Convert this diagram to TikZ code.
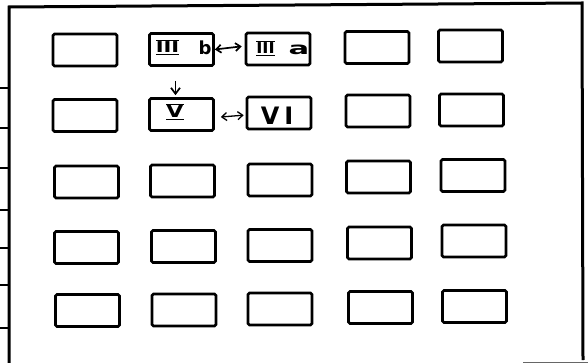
\documentclass[tikz,border=0pt]{standalone}
\usepackage{fontspec}
\setmainfont{DejaVu Sans}
\usetikzlibrary{arrows.meta}
\tikzset{
  cell/.style={draw=black, line width=2.6pt, rounded corners=1.5pt, minimum width=64pt, minimum height=32pt, inner sep=0pt},
  lbl/.style={inner sep=0pt, font=\fontsize{15}{15}\selectfont},
  frameline/.style={line width=3pt, black},
  tick/.style={line width=2pt, black},
  link/.style={line width=1.7pt, black, {Straight Barb[length=5pt,width=8pt]}-{Straight Barb[length=5pt,width=8pt]}},
  downlink/.style={line width=1.7pt, black, -{Straight Barb[length=6pt,width=9pt]}}
}
\newcommand{\barred}[1]{$\overline{\underline{\mbox{#1}}}$}
\begin{document}
\begin{tikzpicture}[x=1pt,y=-1pt]
\useasboundingbox (0,0) rectangle (588,363);
% frame
\draw[frameline] (9,364) -- (9,7) -- (582,3) -- (583,360);
\draw[line width=1pt, black!60] (523,362) -- (588,362);
% ticks
\foreach \t in {88,128,168,210,248,285,328} \draw[tick] (0,\t) -- (9,\t);
% boxes
\node[cell] (r1c1) at (85,50) {};
\node[cell] (r1c2) at (181.5,49.5) {};
\node[cell] (r1c3) at (278,49) {};
\node[cell] (r1c4) at (377,47.5) {};
\node[cell] (r1c5) at (470.5,46) {};
\node[cell] (r2c1) at (85,115.5) {};
\node[cell] (r2c2) at (181.5,114.5) {};
\node[cell] (r2c3) at (279,113) {};
\node[cell] (r2c4) at (378,111) {};
\node[cell] (r2c5) at (471.5,110) {};
\node[cell] (r3c1) at (86.5,182) {};
\node[cell] (r3c2) at (182.5,181) {};
\node[cell] (r3c3) at (280,180) {};
\node[cell] (r3c4) at (378.5,177) {};
\node[cell] (r3c5) at (473,175.5) {};
\node[cell] (r4c1) at (86.5,247.5) {};
\node[cell] (r4c2) at (183.5,246.5) {};
\node[cell] (r4c3) at (280,245.5) {};
\node[cell] (r4c4) at (379.5,243) {};
\node[cell] (r4c5) at (474,241) {};
\node[cell] (r5c1) at (87.5,310.5) {};
\node[cell] (r5c2) at (184,310) {};
\node[cell] (r5c3) at (280,309) {};
\node[cell] (r5c4) at (380.5,307.5) {};
\node[cell] (r5c5) at (474.5,306.5) {};
% labels
\node[lbl] (t3) at (167.5,47.5) {\bfseries\barred{\scalebox{1.4}[1]{III}}};
\node[lbl, font=\fontsize{18}{18}\selectfont\bfseries] (tb) at (205,48) {b};
\node[lbl] (t3a) at (265.5,48.5) {\bfseries\barred{\scalebox{1.1}[1]{III}}};
\node[lbl, font=\fontsize{17}{17}\selectfont\bfseries] (ta) at (299,50) {\scalebox{1.8}[1]{a}};
\node[lbl, font=\fontsize{17}{17}\selectfont\bfseries] (t5) at (175,111.5) {\barred{\scalebox{1.3}[1]{V}}};
\node[lbl, font=\fontsize{24}{24}\selectfont\bfseries] (t6) at (277,116) {V\hspace{5pt}I};
% connectors
\draw[link, shorten >=3pt] (r1c2.east) -- ([yshift=3pt]r1c3.west);
\draw[downlink, shorten <=14pt, shorten >=2pt] ([xshift=-6pt]r1c2.south) -- ([xshift=-6pt]r2c2.north);
\draw[link, line width=1.3pt, shorten <=6pt, shorten >=2pt] ([yshift=-3pt]r2c2.east) -- ([yshift=-2pt]r2c3.west);
\end{tikzpicture}
\end{document}
